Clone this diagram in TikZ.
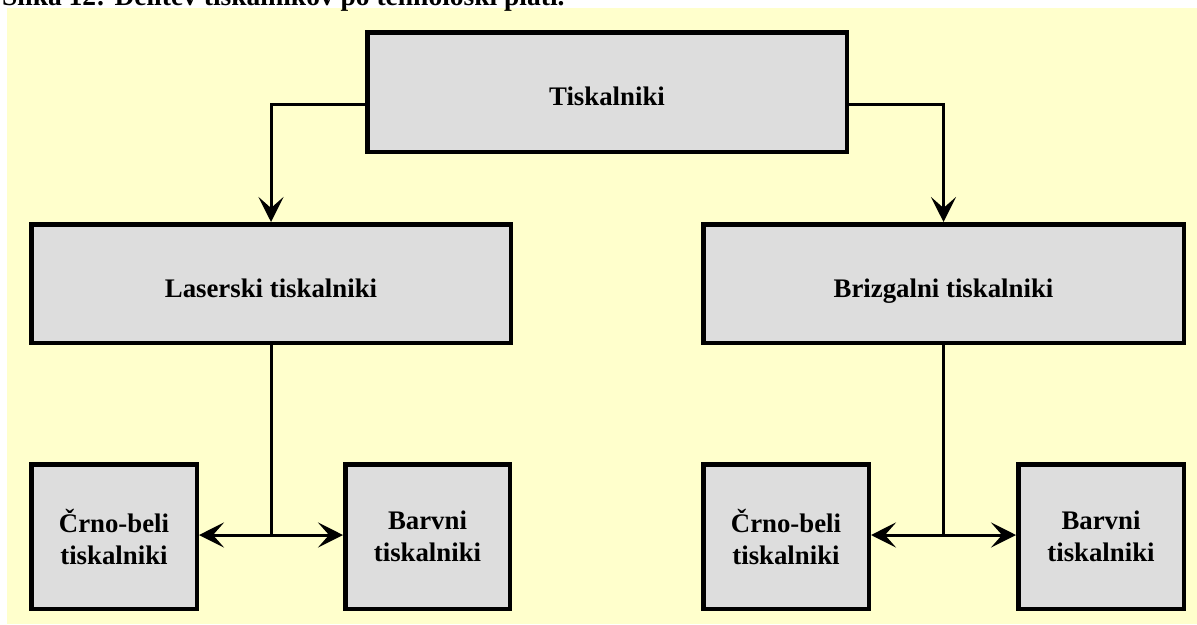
\documentclass[tikz,border=0pt]{standalone}
\usepackage{fontspec}
\setmainfont{Liberation Serif}
\usetikzlibrary{arrows.meta}

\definecolor{paper}{HTML}{FFFFCC}
\definecolor{boxfill}{HTML}{DDDDDD}

\tikzset{
  box/.style={draw=black, line width=4.5pt, fill=boxfill, inner sep=0pt,
              font=\fontsize{26.8}{32}\selectfont\bfseries, align=center},
  onelinebox/.style={box, text height=27pt, text depth=0pt},
  tip/.tip={Stealth[length=25pt, width=25pt, inset=11pt]},
  link/.style={draw=black, line width=3pt},
  arr/.style={link, -tip},
  arrboth/.style={link, tip-tip},
}

\begin{document}
\begin{tikzpicture}[x=1pt, y=-1pt]
  \useasboundingbox (0,0) rectangle (1197,624);
  \fill[paper] (7,8) rectangle (1197,624);

  % caption line above the chart
  \node[anchor=base west, inner sep=0pt, font=\fontsize{27.5}{32}\selectfont\bfseries]
    (caption) at (2,5) {Slika 12: Delitev tiskalnikov po tehnološki plati.};

  % root
  \node[onelinebox, minimum width=479.5pt, minimum height=119.5pt] (tisk) at (607,92) {Tiskalniki};

  % second level
  \node[onelinebox, minimum width=479.5pt, minimum height=118.5pt] (las) at (271,283.5) {Laserski tiskalniki};
  \node[onelinebox, minimum width=480.5pt, minimum height=118.5pt] (briz) at (943.5,283.5) {Brizgalni tiskalniki};

  % leaves
  \node[box, minimum width=165.5pt, minimum height=144.5pt] (cbl) at (114,536.5) {Črno-beli\\tiskalniki};
  \node[box, minimum width=164.5pt, minimum height=144.5pt] (bvl) at (427.5,536.5) {Barvni\\tiskalniki};
  \node[box, minimum width=165.5pt, minimum height=144.5pt] (cbr) at (786,536.5) {Črno-beli\\tiskalniki};
  \node[box, minimum width=165.5pt, minimum height=144.5pt] (bvr) at (1101,536.5) {Barvni\\tiskalniki};

  % root to second level
  \draw[arr] ([yshift=-12pt]tisk.west) -| (las.north);
  \draw[arr] ([yshift=-12pt]tisk.east) -| (briz.north);

  % junctions below the second level
  \coordinate (jl) at (las.south |- 0,535);
  \coordinate (jr) at (briz.south |- 0,535);

  \draw[link] (las.south) -- (jl);
  \draw[arrboth] (cbl.east |- jl) -- (bvl.west |- jl);

  \draw[link] (briz.south) -- (jr);
  \draw[arrboth] (cbr.east |- jr) -- (bvr.west |- jr);
\end{tikzpicture}
\end{document}
